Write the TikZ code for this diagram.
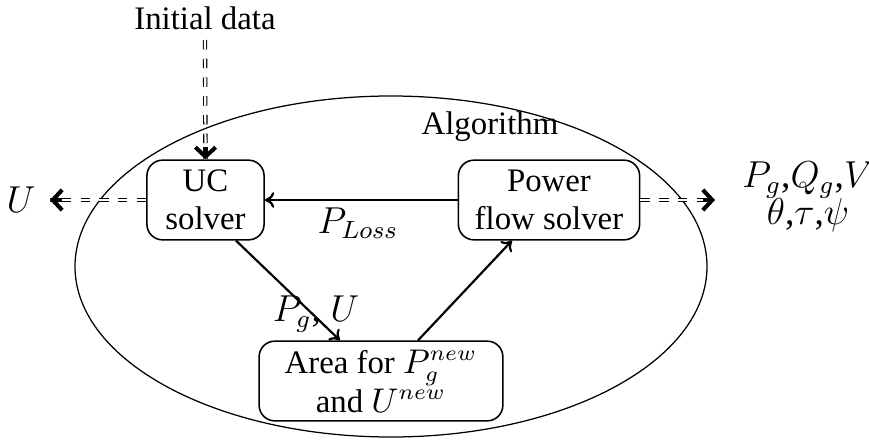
\documentclass[tikz,border=0pt]{standalone}
\usepackage{fontspec}
\setmainfont{Liberation Serif}
\usetikzlibrary{arrows.meta}
\tikzset{
  block/.style={draw, rounded corners=5pt, line width=0.5pt, align=center,
    minimum height=25.5pt, inner sep=1pt},
  flow/.style={line width=0.7pt, -{To[length=3pt,width=5pt]}},
  dataflow/.style={double, double distance=0.7pt, line width=0.35pt, dashed},
  datatip/.style={line width=1.3pt, -{Straight Barb[length=3pt,width=6.5pt]}},
  lbl/.style={inner sep=0pt}
}
\begin{document}
\begin{tikzpicture}[x=0.32pt, y=-0.32pt, font=\fontsize{10.5}{12}\selectfont]
  \useasboundingbox (0,0) rectangle (869,447);
  % enclosing region of the algorithm
  \draw[line width=0.4pt] (391,266.5) ellipse [x radius=316*0.32pt, y radius=170.5*0.32pt];
  \node[lbl] (alg) at (490,127) {Algorithm};
  % solver blocks
  \node[block, minimum width=37.5pt] (uc) at (205.5,200) {UC\\solver};
  \node[block, minimum width=58pt] (pf) at (549,200) {Power\\flow solver};
  \node[block, minimum width=78pt] (area) at (381,381) {Area for $P_g^{new}$\\[0.5pt]and $U^{new}$};
  % external inputs and outputs
  \node[lbl] (init) at (205,18) {Initial data};
  \node[lbl] (uout) at (21,200) {\fontsize{12}{14}\selectfont$U$};
  \node[lbl, align=center] (pfout) at (808,197) {\fontsize{12}{16}\selectfont$P_g$,$Q_g$,$V$\\\fontsize{12}{16}\selectfont$\theta$,$\tau$,$\psi$};
  \coordinate (istart) at (205,40);
  \coordinate (uend) at (50,200);
  \coordinate (pfend) at (715,200);
  % dashed double data connectors with bold chevron heads
  \draw[dataflow] (istart) -- (uc.north);
  \draw[datatip] ([yshift=4pt]uc.north) -- (uc.north);
  \draw[dataflow] (uc.west) -- (uend);
  \draw[datatip] ([xshift=4pt]uend) -- (uend);
  \draw[dataflow] (pf.east) -- (pfend);
  \draw[datatip] ([xshift=-4pt]pfend) -- (pfend);
  % solid process connectors
  \draw[flow] (pf.west) -- (uc.east);
  \draw[flow] (uc.south -| 236,0) -- (area.north -| 340,0);
  \draw[flow] (area.north -| 418,0) -- (pf.south -| 512,0);
  % connector labels
  \node[lbl] (ploss) at (358,223) {\fontsize{12}{14}\selectfont$P_{Loss}$};
  \node[lbl] (pgu) at (316,314) {\fontsize{12}{14}\selectfont$P_g$, $U$};
\end{tikzpicture}
\end{document}
